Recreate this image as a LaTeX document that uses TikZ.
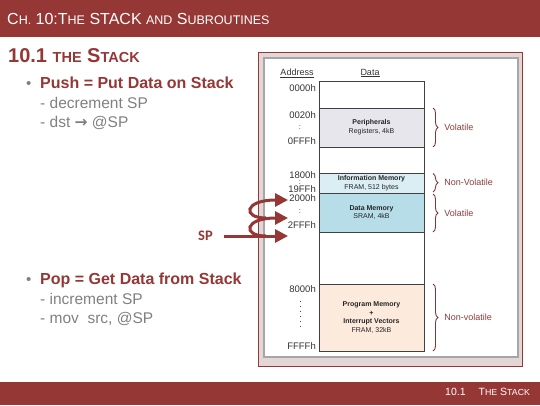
\documentclass[tikz,border=0pt]{standalone}
\usepackage{fontspec}
\setmainfont{Liberation Sans}
\newfontfamily\calibrifont{Carlito}
\newfontfamily\arrowfont{DejaVu Sans}
\usetikzlibrary{arrows.meta,positioning,decorations.pathreplacing}
\definecolor{slidered}{RGB}{149,55,53}
\definecolor{subgray}{RGB}{128,128,128}
\definecolor{framepink}{RGB}{226,214,214}
\definecolor{framegray}{RGB}{166,166,166}
\definecolor{perigray}{RGB}{230,230,236}
\definecolor{infoblue}{RGB}{218,238,243}
\definecolor{datablue}{RGB}{183,221,232}
\definecolor{progpeach}{RGB}{252,234,220}
\definecolor{bracered}{RGB}{128,55,55}
\definecolor{bracetext}{RGB}{140,62,62}
\newcommand{\smallcap}[2]{{\fontsize{#1}{#1}\selectfont #2}}
\tikzset{
  bannertext/.style={anchor=base west, inner sep=0pt, text=white},
  headline/.style={anchor=base west, inner sep=0pt, text=slidered, font=\bfseries\fontsize{20}{24}\selectfont},
  bulletdot/.style={anchor=base west, inner sep=0pt, text=subgray, font=\fontsize{15}{18}\selectfont},
  bullethead/.style={anchor=base west, inner sep=0pt, text=slidered, font=\bfseries\fontsize{16}{19}\selectfont},
  subitem/.style={anchor=base west, inner sep=0pt, text=subgray, font=\fontsize{15.5}{18}\selectfont},
  colhead/.style={inner sep=0pt, text=black!80, font=\fontsize{9}{11}\selectfont},
  memrow/.style={
    draw=black!75,
    line width=0.8pt,
    minimum width=105pt,
    inner sep=0pt,
    outer sep=0pt,
    align=center,
    text=black!85,
    font=\fontsize{7}{8.8}\selectfont
  },
  addr/.style={anchor=base east, inner sep=0pt, text=black!80, font=\fontsize{9.5}{11}\selectfont},
  addrcolon/.style={anchor=base, inner sep=0pt, text=black!80, font=\fontsize{7.5}{8}\selectfont},
  addrdots/.style={draw=black!70, line width=1pt, dash pattern=on 1pt off 4pt},
  membrace/.style={decorate, decoration={brace, amplitude=5pt}, draw=bracered, line width=0.9pt},
  bracelabel/.style={midway, anchor=west, xshift=11pt, inner sep=0pt, text=bracetext, font=\fontsize{9}{11}\selectfont},
  stackarrow/.style={-{Triangle[length=13pt,width=13pt]}, line width=3pt, draw=slidered}
}
\begin{document}
\begin{tikzpicture}[x=1pt, y=-1pt]
  \useasboundingbox (0,0) rectangle (540,405);
  % banners
  \fill[slidered] (0,0) rectangle (540,37);
  \fill[slidered] (0,382) rectangle (540,405);
  \node[bannertext, font=\fontsize{16}{18}\selectfont] (title) at (7,24.5)
    {C\smallcap{12.5}{H.} 10:T\smallcap{12.5}{HE} STACK \smallcap{12.5}{AND} S\smallcap{12.5}{UBROUTINES}};
  \node[bannertext, font=\fontsize{10.5}{12}\selectfont] (footer) at (445,395.5)
    {10.1\hspace{13pt}T\smallcap{8.8}{HE} S\smallcap{8.8}{TACK}};
  \node[headline] (heading) at (8,62.5) {10.1 \smallcap{14.5}{THE} S\smallcap{14.5}{TACK}};

  % push / pop text
  \node[bulletdot] (pushdot) at (26,88.5) {•};
  \node[bullethead] (push) at (40,88.5) {Push = Put Data on Stack};
  \node[subitem] (push1) at (40,108) {- decrement SP};
  \node[subitem] (push2) at (40,127.5) {- dst {\arrowfont\bfseries →} @SP};
  \node[bulletdot] (popdot) at (26,284.5) {•};
  \node[bullethead] (pop) at (40,284.5) {Pop = Get Data from Stack};
  \node[subitem] (pop1) at (40,304) {- increment SP};
  \node[subitem] (pop2) at (40,323.5) {- mov\ \ src, @SP};

  % memory map frame
  \draw[fill=framepink, draw=slidered, line width=1.2pt] (258.5,52.5) rectangle (522.5,366.5);
  \draw[fill=white, draw=framegray, line width=2pt] (263.5,57.5) rectangle (517.5,357);
  \node[colhead] (addrhead) at (297,73) {\underline{Address}};
  \node[colhead] (datahead) at (370,73) {\underline{Data}};

  % memory rows
  \node[memrow, minimum height=27pt, anchor=north] (free1) at (371.5,81) {};
  \node[memrow, fill=perigray, minimum height=39pt, below=0pt of free1] (peri)
    {\textbf{Peripherals}\\Registers, 4kB};
  \node[memrow, minimum height=26pt, below=0pt of peri] (free2) {};
  \node[memrow, fill=infoblue, minimum height=20pt, below=0pt of free2] (info)
    {\textbf{Information Memory}\\FRAM, 512 bytes};
  \node[memrow, fill=datablue, minimum height=39pt, below=0pt of info] (data)
    {\textbf{Data Memory}\\SRAM, 4kB};
  \node[memrow, minimum height=52pt, below=0pt of data] (free3) {};
  \node[memrow, fill=progpeach, minimum height=67pt, below=0pt of free3] (prog)
    {\textbf{Program Memory}\\\textbf{+}\\\textbf{Interrupt Vectors}\\FRAM, 32kB};

  % addresses
  \node[addr] (a0000) at (316,91) {0000h};
  \node[addr] (a0020) at (316,118) {0020h};
  \node[addrcolon] (c1) at (300,129) {:};
  \node[addr] (a0fff) at (316,144) {0FFFh};
  \node[addr] (a1800) at (316,178) {1800h};
  \node[addrcolon] (c2) at (300,184.5) {:};
  \node[addr] (a19ff) at (316,192.5) {19FFh};
  \node[addr] (a2000) at (316,201.5) {2000h};
  \node[addrcolon] (c3) at (300,213.5) {:};
  \node[addr] (a2fff) at (316,228.5) {2FFFh};
  \node[addr] (a8000) at (316,292.5) {8000h};
  \node[addr] (affff) at (316,349.5) {FFFFh};
  \draw[addrdots] (a8000.south -| c1) ++(0,8) -- ++(0,28);

  % braces
  \draw[membrace] ([xshift=9pt]peri.north east) -- ([xshift=9pt]peri.south east)
    node[bracelabel] {Volatile};
  \draw[membrace] ([xshift=9pt,yshift=-0.5pt]info.north east) -- ([xshift=9pt,yshift=1pt]info.south east)
    node[bracelabel] {Non-Volatile};
  \draw[membrace] ([xshift=9pt,yshift=-1pt]data.north east) -- ([xshift=9pt]data.south east)
    node[bracelabel] {Volatile};
  \draw[membrace] ([xshift=9pt]prog.north east) -- ([xshift=9pt]prog.south east)
    node[bracelabel] {Non-volatile};

  % stack pointer arrows
  \node[inner sep=0pt, text=slidered, font=\calibrifont\bfseries\fontsize{14.5}{16}\selectfont] (spl) at (205.5,236) {SP};
  \coordinate (tip1) at (288,200);
  \coordinate (tip2) at (288,218);
  \coordinate (tip3) at (288,236);
  \coordinate (loop1) at (266,218);
  \coordinate (loop2) at (266,236);
  \draw[stackarrow] ([xshift=11pt]spl.east) -- (tip3);
  \draw[stackarrow] (loop2) .. controls (242,236) and (244,218) .. (tip2);
  \draw[stackarrow] (loop1) .. controls (242,218) and (244,200) .. (tip1);
\end{tikzpicture}
\end{document}
